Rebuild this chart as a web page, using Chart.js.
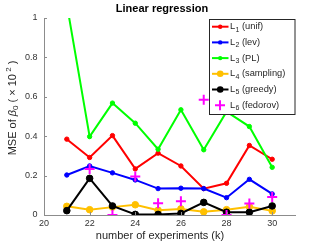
<!DOCTYPE html>
<html>
<head>
<meta charset="utf-8">
<script src="https://cdn.jsdelivr.net/npm/chart.js@4/dist/chart.umd.min.js"></script>
<style>
  html, body { margin: 0; padding: 0; background: #fff; }
  #c { display: block; }
</style>
</head>
<body>
<canvas id="c" width="327" height="245"></canvas>
<script>
// ---- data ----
const experiments = [21, 22, 23, 24, 25, 26, 27, 28, 29, 30];
const unifMSE     = [0.385, 0.292, 0.403, 0.234, 0.314, 0.249, 0.134, 0.161, 0.353, 0.283];
const levMSE      = [0.203, 0.249, 0.214, 0.178, 0.134, 0.136, 0.134, 0.088, 0.181, 0.107];
const plMSE       = [1.07, 0.398, 0.568, 0.466, 0.334, 0.534, 0.331, 0.524, 0.449, 0.242];
const samplingMSE = [0.044, 0.027, 0.040, 0.052, 0.024, 0.031, 0.016, 0.027, 0.042, 0.021];
const greedyMSE   = [0.022, 0.186, 0.046, 0.003, 0.003, 0.008, 0.064, 0.014, 0.014, 0.046];
const fedorovX    = [22, 23, 24, 25, 26, 27, 28, 29, 30];
const fedorovMSE  = [0.234, 0.0, 0.195, 0.060, 0.070, 0.585, 0.0, 0.059, 0.092];
const seriesNames = ['(unif)', '(lev)', '(PL)', '(sampling)', '(greedy)', '(fedorov)'];
const xTicks = [20, 22, 24, 26, 28, 30];
const yTicks = [0, 0.2, 0.4, 0.6, 0.8, 1];
const titleText = 'Linear regression';
const xTitle = 'number of experiments (k)';

const FONT = '"Liberation Sans", Arial, Helvetica, sans-serif';
const pts = (xs, ys) => xs.map((x, i) => ({ x: x, y: ys[i] }));

function lineSet(label, xs, ys, color, radius, order, extra) {
  return Object.assign({
    label: label,
    data: pts(xs, ys),
    borderColor: color,
    backgroundColor: color,
    borderWidth: 2,
    pointRadius: radius,
    pointHoverRadius: radius,
    pointBorderWidth: 1,
    pointBackgroundColor: color,
    pointBorderColor: color,
    tension: 0,
    order: order
  }, extra || {});
}

const colors = ['#ff0000', '#0000ff', '#00ff00', '#ffc000', '#000000', '#ff00ff'];

const datasets = [
  lineSet('L1 ' + seriesNames[0], experiments, unifMSE, colors[0], 2.2, 6),
  lineSet('L2 ' + seriesNames[1], experiments, levMSE, colors[1], 2.2, 5),
  lineSet('L3 ' + seriesNames[2], experiments, plMSE, colors[2], 2.2, 4, { clip: { left: 5, right: 5, top: 0, bottom: 5 } }),
  lineSet('L4 ' + seriesNames[3], experiments, samplingMSE, colors[3], 3.3, 3),
  lineSet('L5 ' + seriesNames[4], experiments, greedyMSE, colors[4], 3.3, 2),
  {
    label: 'L6 ' + seriesNames[5],
    data: pts(fedorovX, fedorovMSE),
    showLine: false,
    borderColor: colors[5],
    backgroundColor: colors[5],
    pointStyle: 'cross',
    pointRadius: 5,
    pointHoverRadius: 5,
    pointBorderWidth: 2,
    pointBorderColor: colors[5],
    order: 1
  }
];

const overlay = {
  id: 'overlay',
  afterDraw(chart) {
    const ctx = chart.ctx;
    const ca = chart.chartArea;
    const xs = chart.scales.x, ys = chart.scales.y;
    ctx.save();

    // inward tick marks
    ctx.strokeStyle = '#8c8c8c';
    ctx.lineWidth = 1;
    ctx.beginPath();
    xTicks.forEach(v => {
      const px = Math.round(xs.getPixelForValue(v)) + 0.5;
      ctx.moveTo(px, ca.bottom); ctx.lineTo(px, ca.bottom - 3);
    });
    yTicks.forEach(v => {
      const py = Math.round(ys.getPixelForValue(v)) + 0.5;
      ctx.moveTo(ca.left, py); ctx.lineTo(ca.left + 3, py);
    });
    ctx.stroke();

    // title
    ctx.fillStyle = '#000';
    ctx.font = 'bold 11px ' + FONT;
    ctx.textAlign = 'center';
    ctx.textBaseline = 'middle';
    ctx.fillText(titleText, 162, 8.5);

    // x title
    ctx.fillStyle = '#262626';
    ctx.font = '11px ' + FONT;
    ctx.fillText(xTitle, 160, 236);

    // y title (rotated, with sub/superscript)
    const parts = [
      { t: 'MSE of ', f: '11px ' + FONT, dy: 0 },
      { t: 'β', f: 'italic 11px ' + FONT, dy: 0 },
      { t: '0', f: '8px ' + FONT, dy: 3 },
      { t: ' ( × 10', f: '11px ' + FONT, dy: 0 },
      { t: ' 2', f: '8px ' + FONT, dy: -4 },
      { t: ' )', f: '11px ' + FONT, dy: 0 }
    ];
    let total = 0;
    parts.forEach(p => { ctx.font = p.f; p.w = ctx.measureText(p.t).width; total += p.w; });
    ctx.translate(12.5, 108);
    ctx.rotate(-Math.PI / 2);
    ctx.textAlign = 'left';
    let cx = -total / 2;
    parts.forEach(p => {
      ctx.font = p.f;
      ctx.fillText(p.t, cx, p.dy);
      cx += p.w;
    });
    ctx.setTransform(1, 0, 0, 1, 0, 0);

    // legend
    const bx = 209.5, by = 19.5, bw = 85.5, bh = 95;
    ctx.fillStyle = '#fff';
    ctx.fillRect(bx, by, bw, bh);
    ctx.strokeStyle = '#262626';
    ctx.lineWidth = 1;
    ctx.strokeRect(bx, by, bw, bh);
    chart.data.datasets.forEach((ds, i) => {
      const y = 26.7 + i * 15.7;
      const col = ds.borderColor;
      if (ds.showLine !== false) {
        ctx.strokeStyle = col;
        ctx.lineWidth = 2;
        ctx.beginPath();
        ctx.moveTo(212, y); ctx.lineTo(228.5, y);
        ctx.stroke();
        ctx.fillStyle = col;
        ctx.beginPath();
        ctx.arc(220.2, y, ds.pointRadius, 0, Math.PI * 2);
        ctx.fill();
      } else {
        ctx.strokeStyle = col;
        ctx.lineWidth = 2;
        ctx.beginPath();
        ctx.moveTo(215, y); ctx.lineTo(225, y);
        ctx.moveTo(220, y - 5); ctx.lineTo(220, y + 5);
        ctx.stroke();
      }
      ctx.fillStyle = '#262626';
      ctx.textAlign = 'left';
      ctx.textBaseline = 'middle';
      ctx.font = '9.3px ' + FONT;
      let tx = 230;
      ctx.fillText('L', tx, y);
      tx += ctx.measureText('L').width;
      ctx.font = '7px ' + FONT;
      ctx.fillText(String(i + 1), tx + 0.3, y + 3);
      tx += ctx.measureText(String(i + 1)).width + 0.3;
      ctx.font = '9.3px ' + FONT;
      ctx.fillText(' ' + seriesNames[i], tx, y);
    });
    ctx.restore();
  }
};

new Chart(document.getElementById('c'), {
  type: 'line',
  data: { datasets: datasets },
  plugins: [overlay],
  options: {
    responsive: false,
    devicePixelRatio: 1,
    animation: false,
    layout: { padding: { left: 0, right: 32, top: 18, bottom: 0 } },
    plugins: {
      legend: { display: false },
      title: { display: false },
      tooltip: { enabled: false }
    },
    scales: {
      x: {
        type: 'linear',
        min: 20,
        max: 31,
        afterBuildTicks: s => { s.ticks = xTicks.map(v => ({ value: v })); },
        afterFit: s => { s.height = 30; },
        grid: { display: false, drawTicks: false },
        border: { display: true, color: '#8c8c8c', width: 1 },
        ticks: { color: '#333', font: { family: FONT, size: 9 }, padding: 3, maxRotation: 0 }
      },
      y: {
        type: 'linear',
        min: 0,
        max: 1,
        afterBuildTicks: s => { s.ticks = yTicks.map(v => ({ value: v })); },
        afterFit: s => { s.width = 44; },
        grid: { display: false, drawTicks: false },
        border: { display: true, color: '#8c8c8c', width: 1 },
        ticks: {
          color: '#333',
          font: { family: FONT, size: 9 },
          padding: 6.5,
          callback: v => (v === 0 ? '0' : v === 1 ? '1' : v.toFixed(1))
        }
      }
    }
  }
});
</script>
</body>
</html>
